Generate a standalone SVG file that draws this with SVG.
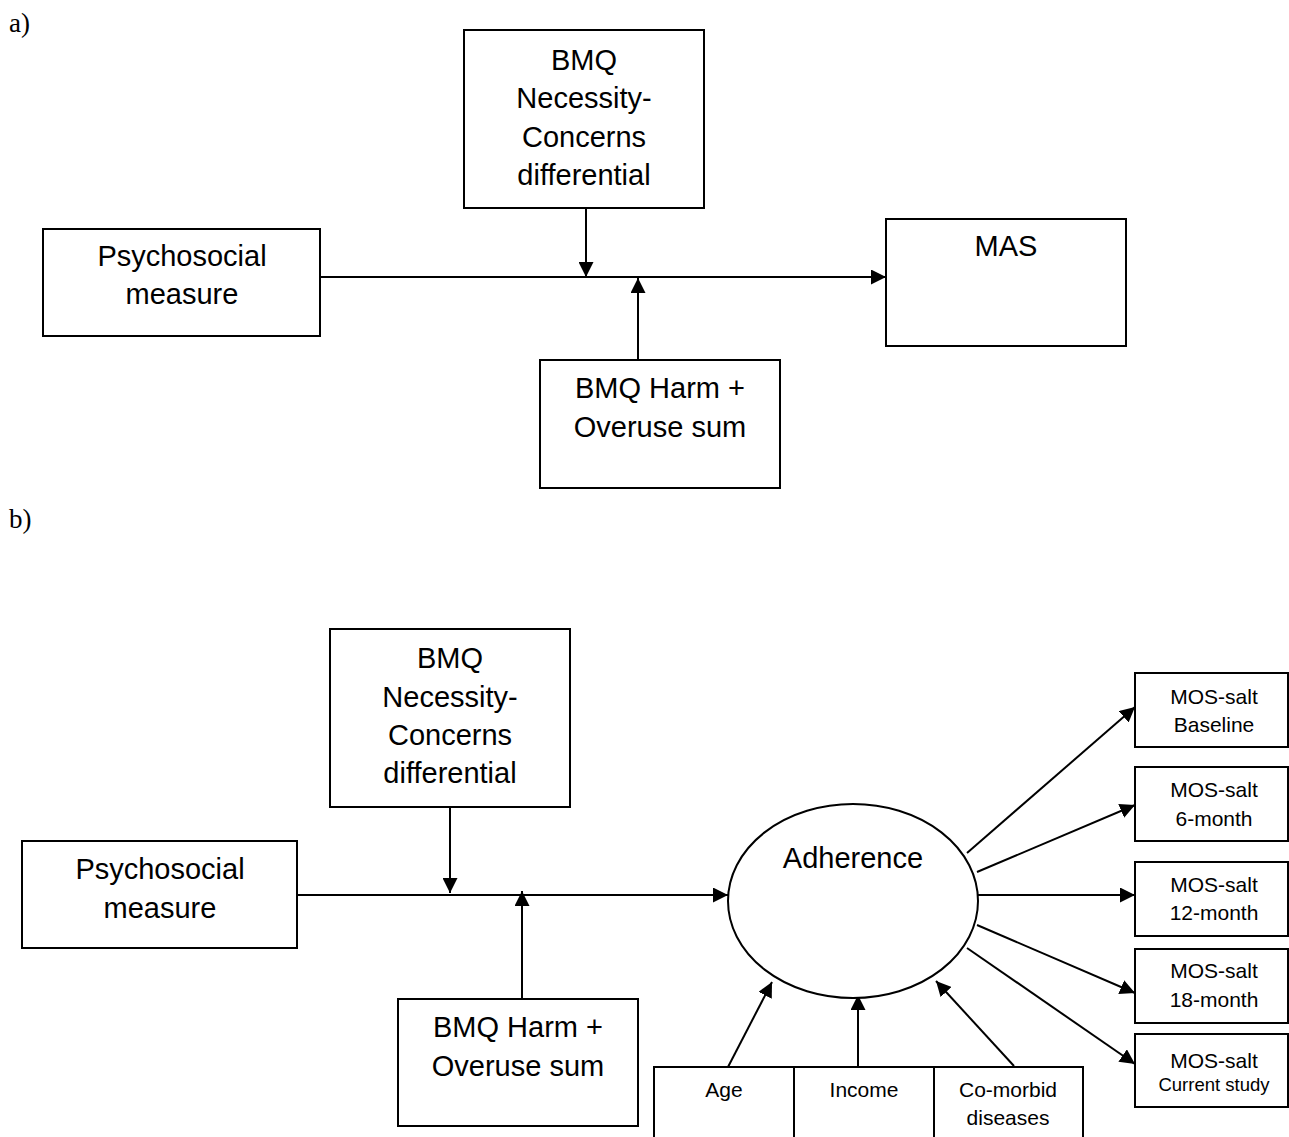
<svg xmlns="http://www.w3.org/2000/svg" width="1289" height="1137" viewBox="0 0 1289 1137">
<defs>
<marker id="arr" markerUnits="userSpaceOnUse" markerWidth="16" markerHeight="15" refX="15" refY="7.5" orient="auto">
<path d="M0,0 L15,7.5 L0,15 z" fill="#000"/>
</marker>
<style>
.box{fill:#fff;stroke:#000;stroke-width:2}
.ln{fill:none;stroke:#000;stroke-width:2;marker-end:url(#arr)}
.t{font-family:"Liberation Sans",Arial,sans-serif;font-size:29px;text-anchor:middle;fill:#000}
.s{font-family:"Liberation Sans",Arial,sans-serif;font-size:21px;text-anchor:middle;fill:#000}
.xs{font-family:"Liberation Sans",Arial,sans-serif;font-size:18.5px;text-anchor:middle;fill:#000}
.lab{font-family:"Liberation Serif","Times New Roman",serif;font-size:27px;fill:#000}
</style>
</defs>
<rect width="1289" height="1137" fill="#fff"/>
<text class="lab" x="9" y="32">a)</text>
<text class="lab" x="9" y="528">b)</text>

<g id="connectors">
<line class="ln" x1="320" y1="277" x2="886" y2="277"/>
<line class="ln" x1="586" y1="208" x2="586" y2="277"/>
<line class="ln" x1="638" y1="360" x2="638" y2="278"/>

<line class="ln" x1="297" y1="895" x2="728" y2="895"/>
<line class="ln" x1="450" y1="807" x2="450" y2="893"/>
<line class="ln" x1="522" y1="999" x2="522" y2="891"/>
<line class="ln" x1="967" y1="853" x2="1135" y2="707"/>
<line class="ln" x1="977" y1="872" x2="1135" y2="805"/>
<line class="ln" x1="978" y1="895" x2="1135" y2="895"/>
<line class="ln" x1="977" y1="925" x2="1135" y2="993"/>
<line class="ln" x1="967" y1="948" x2="1135" y2="1064"/>
<line class="ln" x1="728" y1="1067" x2="772" y2="982"/>
<line class="ln" x1="858" y1="1067" x2="858" y2="995"/>
<line class="ln" x1="1014" y1="1066" x2="936" y2="981"/>
</g>

<g id="a-bmq-nc">
<rect class="box" x="464" y="30" width="240" height="178"/>
<text class="t" x="584" y="70">BMQ</text>
<text class="t" x="584" y="108">Necessity-</text>
<text class="t" x="584" y="147">Concerns</text>
<text class="t" x="584" y="185">differential</text>
</g>
<g id="a-psych">
<rect class="box" x="43" y="229" width="277" height="107"/>
<text class="t" x="182" y="266">Psychosocial</text>
<text class="t" x="182" y="304">measure</text>
</g>
<g id="a-mas">
<rect class="box" x="886" y="219" width="240" height="127"/>
<text class="t" x="1006" y="256">MAS</text>
</g>
<g id="a-harm">
<rect class="box" x="540" y="360" width="240" height="128"/>
<text class="t" x="660" y="398">BMQ Harm +</text>
<text class="t" x="660" y="437">Overuse sum</text>
</g>

<g id="b-bmq-nc">
<rect class="box" x="330" y="629" width="240" height="178"/>
<text class="t" x="450" y="668">BMQ</text>
<text class="t" x="450" y="707">Necessity-</text>
<text class="t" x="450" y="745">Concerns</text>
<text class="t" x="450" y="783">differential</text>
</g>
<g id="b-psych">
<rect class="box" x="22" y="841" width="275" height="107"/>
<text class="t" x="160" y="879">Psychosocial</text>
<text class="t" x="160" y="918">measure</text>
</g>
<g id="b-harm">
<rect class="box" x="398" y="999" width="240" height="127"/>
<text class="t" x="518" y="1037">BMQ Harm +</text>
<text class="t" x="518" y="1076">Overuse sum</text>
</g>
<g id="b-adherence">
<ellipse class="box" cx="853" cy="901" rx="125" ry="97"/>
<text class="t" x="853" y="868">Adherence</text>
</g>
<g id="b-age">
<rect class="box" x="654" y="1067" width="140" height="80"/>
<text class="s" x="724" y="1097">Age</text>
</g>
<g id="b-income">
<rect class="box" x="794" y="1067" width="140" height="80"/>
<text class="s" x="864" y="1097">Income</text>
</g>
<g id="b-comorbid">
<rect class="box" x="934" y="1067" width="149" height="80"/>
<text class="s" x="1008" y="1097">Co-morbid</text>
<text class="s" x="1008" y="1125">diseases</text>
</g>
<g id="b-mos-baseline">
<rect class="box" x="1135" y="673" width="153" height="74"/>
<text class="s" x="1214" y="704">MOS-salt</text>
<text class="s" x="1214" y="732">Baseline</text>
</g>
<g id="b-mos-6">
<rect class="box" x="1135" y="767" width="153" height="74"/>
<text class="s" x="1214" y="797">MOS-salt</text>
<text class="s" x="1214" y="826">6-month</text>
</g>
<g id="b-mos-12">
<rect class="box" x="1135" y="862" width="153" height="74"/>
<text class="s" x="1214" y="892">MOS-salt</text>
<text class="s" x="1214" y="920">12-month</text>
</g>
<g id="b-mos-18">
<rect class="box" x="1135" y="949" width="153" height="74"/>
<text class="s" x="1214" y="978">MOS-salt</text>
<text class="s" x="1214" y="1007">18-month</text>
</g>
<g id="b-mos-current">
<rect class="box" x="1135" y="1034" width="153" height="73"/>
<text class="s" x="1214" y="1068">MOS-salt</text>
<text class="xs" x="1214" y="1091">Current study</text>
</g>
</svg>
